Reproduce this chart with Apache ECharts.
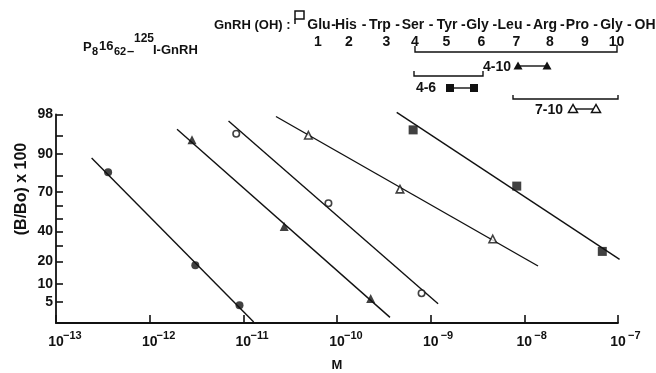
<!DOCTYPE html>
<html><head><meta charset="utf-8">
<script src="https://cdn.jsdelivr.net/npm/echarts@6/dist/echarts.min.js"></script>
<style>html,body{margin:0;padding:0;background:#fff}#c{width:656px;height:373px}</style>
</head><body><div id="c"></div>
<script>
// ---------- data ----------
const xTickExponents = [-13, -12, -11, -10, -9, -8, -7];
const yTickLabels = [5, 10, 20, 40, 70, 90, 98];
const yTickMarks = [5, 10, 20, 30, 40, 50, 60, 70, 80, 90, 95, 98];

// filled circles
const fcConc = [3.6e-13, 3.07e-12, 9.1e-12];
const fcPct = [82, 18, 4.4];
const fcFitConc = [2.4e-13, 1.29e-11];
const fcFitPct = [88.4, 2.1];
// filled triangles (4-10)
const ftConc = [2.83e-12, 2.73e-11, 2.29e-10];
const ftPct = [94, 44, 5.8];
const ftFitConc = [1.96e-12, 3.68e-10];
const ftFitPct = [96.1, 2.6];
// open circles
const ocConc = [8.4e-12, 8.1e-11, 8.0e-10];
const ocPct = [95.3, 62, 7.1];
const ocFitConc = [6.95e-12, 1.2e-9];
const ocFitPct = [97.3, 4.7];
// open triangles (7-10)
const otConc = [4.95e-11, 4.7e-10, 4.6e-9];
const otPct = [95, 72, 34.5];
const otFitConc = [2.23e-11, 1.4e-8];
const otFitPct = [97.8, 17.6];
// filled squares (4-6)
const sqConc = [6.5e-10, 8.3e-9, 6.8e-8];
const sqPct = [96, 74, 26];
const sqFitConc = [4.34e-10, 1.04e-7];
const sqFitPct = [98.2, 21.2];

const residues = ['Glu','His','Trp','Ser','Tyr','Gly','Leu','Arg','Pro','Gly','OH'];
const residueNumbers = ['1','2','3','4','5','6','7','8','9','10'];

// ---------- helpers ----------
function probit(p){
  const a=[-3.969683028665376e+01,2.209460984245205e+02,-2.759285104469687e+02,1.383577518672690e+02,-3.066479806614716e+01,2.506628277459239e+00];
  const b=[-5.447609879822406e+01,1.615858368580409e+02,-1.556989798598866e+02,6.680131188771972e+01,-1.328068155288572e+01];
  const c=[-7.784894002430293e-03,-3.223964580411365e-01,-2.400758277161838e+00,-2.549732539343734e+00,4.374664141464968e+00,2.938163982698783e+00];
  const d=[7.784695709041462e-03,3.224671290700398e-01,2.445134137142996e+00,3.754408661907416e+00];
  const pl=0.02425, ph=1-pl; let q, r;
  if (p < pl){ q=Math.sqrt(-2*Math.log(p)); return (((((c[0]*q+c[1])*q+c[2])*q+c[3])*q+c[4])*q+c[5])/((((d[0]*q+d[1])*q+d[2])*q+d[3])*q+1); }
  if (p > ph){ q=Math.sqrt(-2*Math.log(1-p)); return -(((((c[0]*q+c[1])*q+c[2])*q+c[3])*q+c[4])*q+c[5])/((((d[0]*q+d[1])*q+d[2])*q+d[3])*q+1); }
  q=p-0.5; r=q*q;
  return (((((a[0]*r+a[1])*r+a[2])*r+a[3])*r+a[4])*r+a[5])*q/(((((b[0]*r+b[1])*r+b[2])*r+b[3])*r+b[4])*r+1);
}
const pz = pct => probit(pct/100);
const pairs = (xs, ps) => xs.map((x,i)=>[x, pz(ps[i])]);

const FONT = 'Liberation Sans';
const black = '#111';

function fitSeries(name, xs, ps){
  return {name, type:'line', data: pairs(xs, ps), showSymbol:false, symbol:'none', clip:false, silent:true,
    lineStyle:{color:black, width:1.4}, z:2};
}
function ptSeries(name, xs, ps, symbol, size, filled){
  return {name, type:'scatter', data: pairs(xs, ps), symbol, symbolSize:size, clip:false, z:3,
    itemStyle: filled ? {color:black} : {color:'#fff', borderColor:black, borderWidth:1.6}};
}

const chart = echarts.init(document.getElementById('c'), null, {renderer:'canvas'});

function txt(x, y, s, size, align){
  return {type:'text', x, y, style:{text:s, font:'bold '+size+'px '+FONT, fill:black, textAlign:align||'left', textVerticalAlign:'middle'}};
}

// header layout (annotation positions)
const residueCx = [319, 346, 380, 413, 447, 477.5, 510, 545, 577.5, 611.5, 645];
const numberCx = [318, 349, 386.5, 415, 446.5, 481.5, 516.5, 550, 585, 616.5];
const graphics = [];
residues.forEach((r,i)=>{
  graphics.push(txt(residueCx[i], 25, r, 14, 'center'));
  if (i < residues.length-1) graphics.push(txt((residueCx[i]+residueCx[i+1])/2 + 1, 25, '-', 14, 'center'));
});
residueNumbers.forEach((n,i)=> graphics.push(txt(numberCx[i], 42, n, 14, 'center')));
graphics.push(txt(214, 25, 'GnRH (OH) :', 13, 'left'));
graphics.push({type:'rect', shape:{x:295, y:11, width:9, height:8}, style:{fill:'none', stroke:black, lineWidth:1.5}});
graphics.push({type:'polyline', shape:{points:[[295,19],[295,24]]}, style:{stroke:black, lineWidth:1.5}});
// P8 16 62 - 125I-GnRH
graphics.push(txt(83, 47, 'P', 13));
graphics.push(txt(92, 52, '8', 11));
graphics.push(txt(99, 46, '16', 13));
graphics.push(txt(114, 52, '62', 11));
graphics.push(txt(127, 51, '–', 13));
graphics.push(txt(134, 39, '125', 12));
graphics.push(txt(153, 50, 'I-GnRH', 13));
// brackets & legend
const bstyle = {fill:'none', stroke:black, lineWidth:1.4};
graphics.push({type:'polyline', shape:{points:[[415,46],[415,52],[617,52],[617,45]]}, style:bstyle});
graphics.push({type:'polyline', shape:{points:[[414,71],[414,76],[483,76],[483,71]]}, style:bstyle});
graphics.push({type:'polyline', shape:{points:[[513,95],[513,99],[618,99],[618,95]]}, style:bstyle});
graphics.push(txt(497, 67, '4-10', 14, 'center'));
graphics.push(txt(426, 88, '4-6', 14, 'center'));
graphics.push(txt(549, 110, '7-10', 14, 'center'));
function tri(cx, cy, filled){
  return {type:'polygon', shape:{points:[[cx,cy-4.5],[cx-4.5,cy+3.5],[cx+4.5,cy+3.5]]},
    style: filled ? {fill:black} : {fill:'#fff', stroke:black, lineWidth:1.5}};
}
graphics.push({type:'line', shape:{x1:518,y1:66,x2:547,y2:66}, style:{stroke:black, lineWidth:1.4}});
graphics.push(tri(518,66,true)); graphics.push(tri(547,66,true));
graphics.push({type:'line', shape:{x1:450,y1:88,x2:474,y2:88}, style:{stroke:black, lineWidth:1.4}});
graphics.push({type:'rect', shape:{x:446,y:84,width:8,height:8}, style:{fill:black}});
graphics.push({type:'rect', shape:{x:470,y:84,width:8,height:8}, style:{fill:black}});
graphics.push({type:'line', shape:{x1:573,y1:109,x2:596,y2:109}, style:{stroke:black, lineWidth:1.4}});
graphics.push(tri(573,109,false)); graphics.push(tri(596,109,false));
// y axis title
graphics.push({type:'text', x:22, y:189, rotation:Math.PI/2, style:{text:'(B/Bo) x 100', font:'bold 16px '+FONT, fill:black, textAlign:'center', textVerticalAlign:'middle'}});

const option = {
  animation:false,
  backgroundColor:'#fff',
  grid:{left:56, right:38, top:114.5, bottom:50, containLabel:false, outerBoundsMode:'none'},
  xAxis:{
    type:'log', logBase:10, min:1e-13, max:1e-7,
    name:'M', nameLocation:'middle', nameGap:36,
    nameTextStyle:{fontFamily:FONT, fontWeight:'bold', fontSize:13, color:black},
    axisLine:{show:true, onZero:false, lineStyle:{color:black, width:1.8}},
    axisTick:{show:true, inside:true, length:8, lineStyle:{color:black, width:1.6}},
    minorTick:{show:false}, splitLine:{show:false},
    axisLabel:{
      margin:10, color:black,
      formatter: v => { const e = Math.round(Math.log10(v)); return '{pad|}{b|10}{s|−' + Math.abs(e) + '}'; },
      rich:{
        pad:{width:17, fontSize:14, lineHeight:16, verticalAlign:'bottom'},
        b:{fontFamily:FONT, fontWeight:'bold', fontSize:14, lineHeight:16, color:black, verticalAlign:'bottom'},
        s:{fontFamily:FONT, fontWeight:'bold', fontSize:11, lineHeight:12, color:black, verticalAlign:'bottom', padding:[0,0,8,0], width:17}
      }
    }
  },
  yAxis:{
    type:'value', min:pz(2), max:pz(98),
    axisLine:{show:true, onZero:false, lineStyle:{color:black, width:1.8}},
    axisTick:{show:true, inside:true, length:7, lineStyle:{color:black, width:1.6}, customValues: yTickMarks.map(pz)},
    splitLine:{show:false},
    axisLabel:{
      margin:3, color:black, fontFamily:FONT, fontWeight:'bold', fontSize:14,
      customValues: yTickLabels.map(pz),
      formatter: v => { let best = yTickLabels[0], bd = 1e9; yTickLabels.forEach(l=>{ const d = Math.abs(pz(l)-v); if (d<bd){bd=d;best=l;} }); return String(best); }
    }
  },
  graphic: graphics,
  series:[
    fitSeries('fit ●', fcFitConc, fcFitPct),
    fitSeries('fit ▲ 4-10', ftFitConc, ftFitPct),
    fitSeries('fit ○', ocFitConc, ocFitPct),
    fitSeries('fit △ 7-10', otFitConc, otFitPct),
    fitSeries('fit ■ 4-6', sqFitConc, sqFitPct),
    ptSeries('●', fcConc, fcPct, 'circle', 8, true),
    ptSeries('▲ 4-10', ftConc, ftPct, 'triangle', 9, true),
    ptSeries('○', ocConc, ocPct, 'circle', 6.5, false),
    ptSeries('△ 7-10', otConc, otPct, 'triangle', 7.5, false),
    ptSeries('■ 4-6', sqConc, sqPct, 'rect', 9, true)
  ]
};
chart.setOption(option);
</script>
</body></html>
